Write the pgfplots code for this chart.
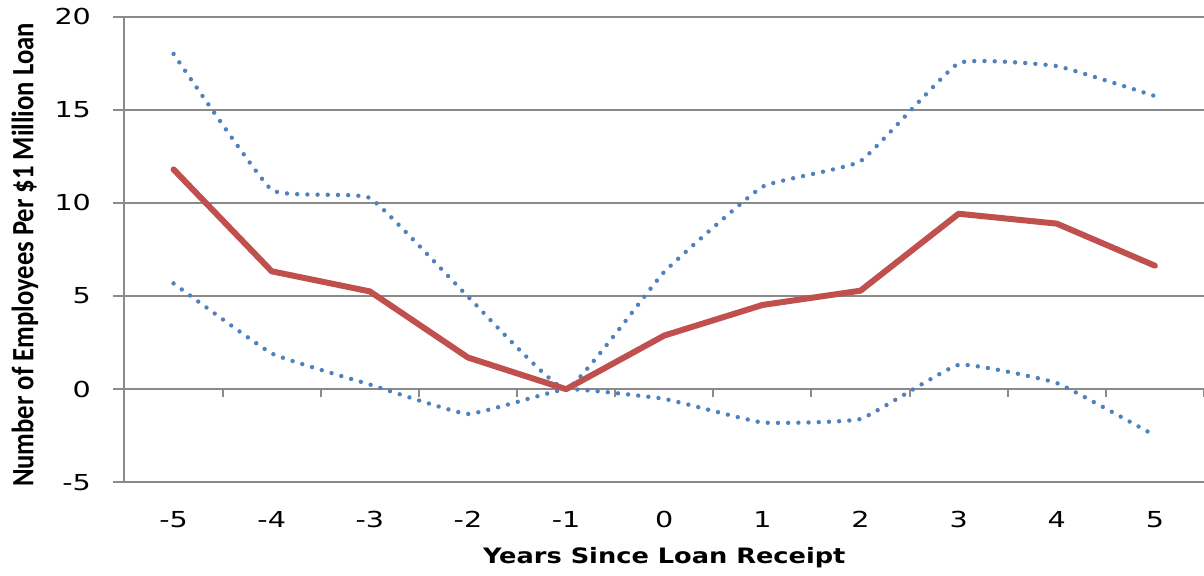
\documentclass[border=0pt]{standalone}
\usepackage{fontspec}
\setmainfont{DejaVu Sans}
\newfontfamily\tickfont[FakeStretch=1.3]{DejaVu Sans}
\newfontfamily\xlabelfont[FakeStretch=1.21]{DejaVu Sans}
\newfontfamily\ylabelfont[FakeStretch=0.86]{Carlito}
\usepackage{pgfplots}
\usepackage{pgfplotstable}
\pgfplotsset{compat=1.18}

\definecolor{loanred}{RGB}{192,80,77}
\definecolor{bandblue}{RGB}{79,129,189}
\definecolor{gridgray}{RGB}{138,138,138}

% Employment effect per $1 million of loan, with upper and lower bounds
\pgfplotstableread{
year  est    upper  lower
-5    11.80  18.00   5.68
-4     6.33  10.70   1.92
-3     5.25  10.27   0.25
-2     1.70   4.97  -1.33
-1     0.00   0.00   0.00
 0     2.88   6.30  -0.52
 1     4.52  10.87  -1.79
 2     5.29  12.24  -1.60
 3     9.42  17.51   1.31
 4     8.89  17.35   0.33
 5     6.63  15.74  -2.49
}\loandata

\pgfplotsset{
  loanframe/.style={
    scale only axis,
    width=539.75pt, height=232.8pt,
    at={(0,0)}, anchor=south west,
    xmin=-5.5, xmax=5.5, ymin=-5, ymax=20,
  },
  bandline/.style={
    bandblue, line width=2.2pt, line cap=round,
    dash pattern=on 0pt off 5.1pt, smooth, tension=0.2,
  },
}

\begin{document}
\begin{tikzpicture}
% category boundary ticks hanging from the zero line
\begin{axis}[
  loanframe,
  axis x line=middle, axis y line=none,
  axis line style={draw=none},
  xtick={-4.5,-3.5,...,5.5}, xticklabels={},
  x tick style={gridgray, line width=1pt},
  tick align=outside, major tick length=4pt,
]
\end{axis}
\begin{axis}[
  loanframe,
  axis y line=left, axis x line=bottom,
  axis line style={gridgray, line width=1pt, -},
  xtick={-5,...,5},
  x tick style={draw=none},
  ytick={-5,0,...,20},
  y tick style={gridgray, line width=0.9pt},
  tick align=outside, major tick length=5.75pt,
  ymajorgrids,
  major grid style={gridgray, line width=0.9pt},
  /pgf/number format/assume math mode=true,
  tick label style={font=\tickfont\fontsize{11pt}{13pt}\selectfont},
  yticklabel style={anchor=east, xshift=-7.5pt},
  xticklabel style={anchor=base, yshift=-16.6pt},
  xlabel={Years Since Loan Receipt},
  xlabel style={at={(axis description cs:0.5,-0.174)}, anchor=base,
    font=\xlabelfont\fontsize{10.6pt}{13pt}\selectfont\bfseries},
  ylabel={Number of Employees Per \$1 Million Loan},
  ylabel style={at={(axis description cs:-0.0845,0.488)}, anchor=base,
    font=\ylabelfont\fontsize{15.5pt}{17pt}\selectfont\bfseries},
]
\addplot[bandline] table[x=year, y=upper] {\loandata};
\addplot[bandline] table[x=year, y=lower] {\loandata};
\addplot[loanred, line width=3pt, line join=round, line cap=round]
  table[x=year, y=est] {\loandata};
\end{axis}
\pgfresetboundingbox
\path[use as bounding box] (-62.25pt,-46.35pt) rectangle (539.75pt,241.15pt);
\end{tikzpicture}
\end{document}
